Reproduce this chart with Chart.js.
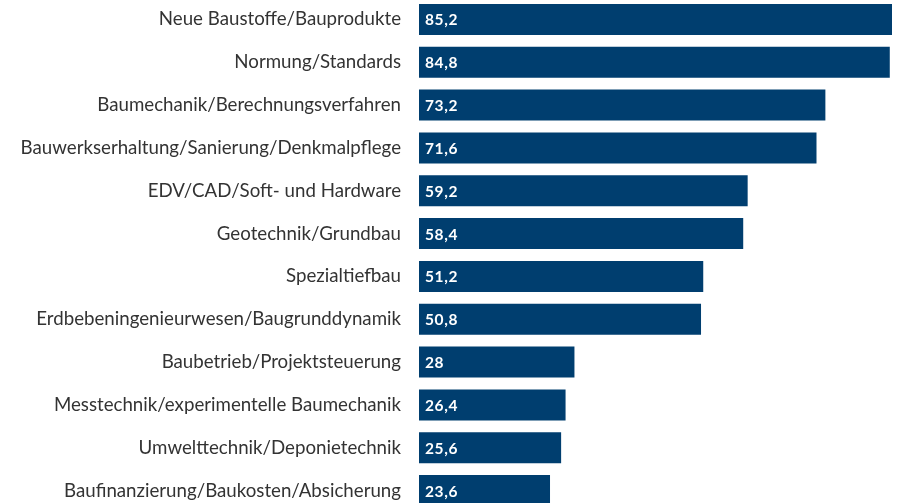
<!DOCTYPE html>
<html>
<head>
<meta charset="utf-8">
<script src="https://cdn.jsdelivr.net/npm/chart.js@4"></script>
<style>
    html, body { margin: 0; padding: 0; background: #fff; overflow: hidden; }
    #wrap { position: absolute; left: 0; top: -2px; width: 899px; height: 514px; }
</style>
</head>
<body>
<div id="wrap"><canvas id="themenChart"></canvas></div>
<script>
// Themen und Werte (Prozent)
const categories = [
    'Neue Baustoffe/Bauprodukte',
    'Normung/Standards',
    'Baumechanik/Berechnungsverfahren',
    'Bauwerkserhaltung/Sanierung/Denkmalpflege',
    'EDV/CAD/Soft- und Hardware',
    'Geotechnik/Grundbau',
    'Spezialtiefbau',
    'Erdbebeningenieurwesen/Baugrunddynamik',
    'Baubetrieb/Projektsteuerung',
    'Messtechnik/experimentelle Baumechanik',
    'Umwelttechnik/Deponietechnik',
    'Baufinanzierung/Baukosten/Absicherung'
];
const values = [85.2, 84.8, 73.2, 71.6, 59.2, 58.4, 51.2, 50.8, 28, 26.4, 25.6, 23.6];

const barColor = '#003e6f';

// Wertbeschriftung innen links
const valueLabels = {
    id: 'valueLabels',
    afterDatasetsDraw(chart) {
        const ctx = chart.ctx;
        const meta = chart.getDatasetMeta(0);
        ctx.save();
        ctx.fillStyle = '#fff';
        ctx.font = 'bold 15.5px Lato';
        ctx.letterSpacing = '0.6px';
        ctx.textAlign = 'left';
        ctx.textBaseline = 'middle';
        meta.data.forEach((bar, i) => {
            const txt = String(values[i]).replace('.', ',');
            ctx.fillText(txt, bar.base + 6, bar.y + 1);
        });
        ctx.restore();
    }
};

new Chart(document.getElementById('themenChart'), {
    type: 'bar',
    data: {
        labels: categories,
        datasets: [{
            data: values,
            backgroundColor: barColor,
            borderWidth: 0,
            barPercentage: 0.9,
            categoryPercentage: 0.804
        }]
    },
    options: {
        indexAxis: 'y',
        responsive: true,
        maintainAspectRatio: false,
        animation: false,
        layout: { padding: { left: 0, right: 7, top: 0, bottom: 0 } },
        plugins: {
            legend: { display: false },
            tooltip: { enabled: false }
        },
        scales: {
            x: {
                display: false,
                min: 0,
                max: 85.2
            },
            y: {
                grid: { display: false, drawTicks: false },
                border: { display: false },
                ticks: {
                    color: '#333',
                    padding: 18,
                    font: { family: 'Lato', size: 18.7 }
                },
                afterFit(axis) {
                    axis.width = 419;
                    // kein Überstand oben/unten
                    axis.paddingTop = 0;
                    axis.paddingBottom = 0;
                }
            }
        }
    },
    plugins: [valueLabels]
});
</script>
</body>
</html>
